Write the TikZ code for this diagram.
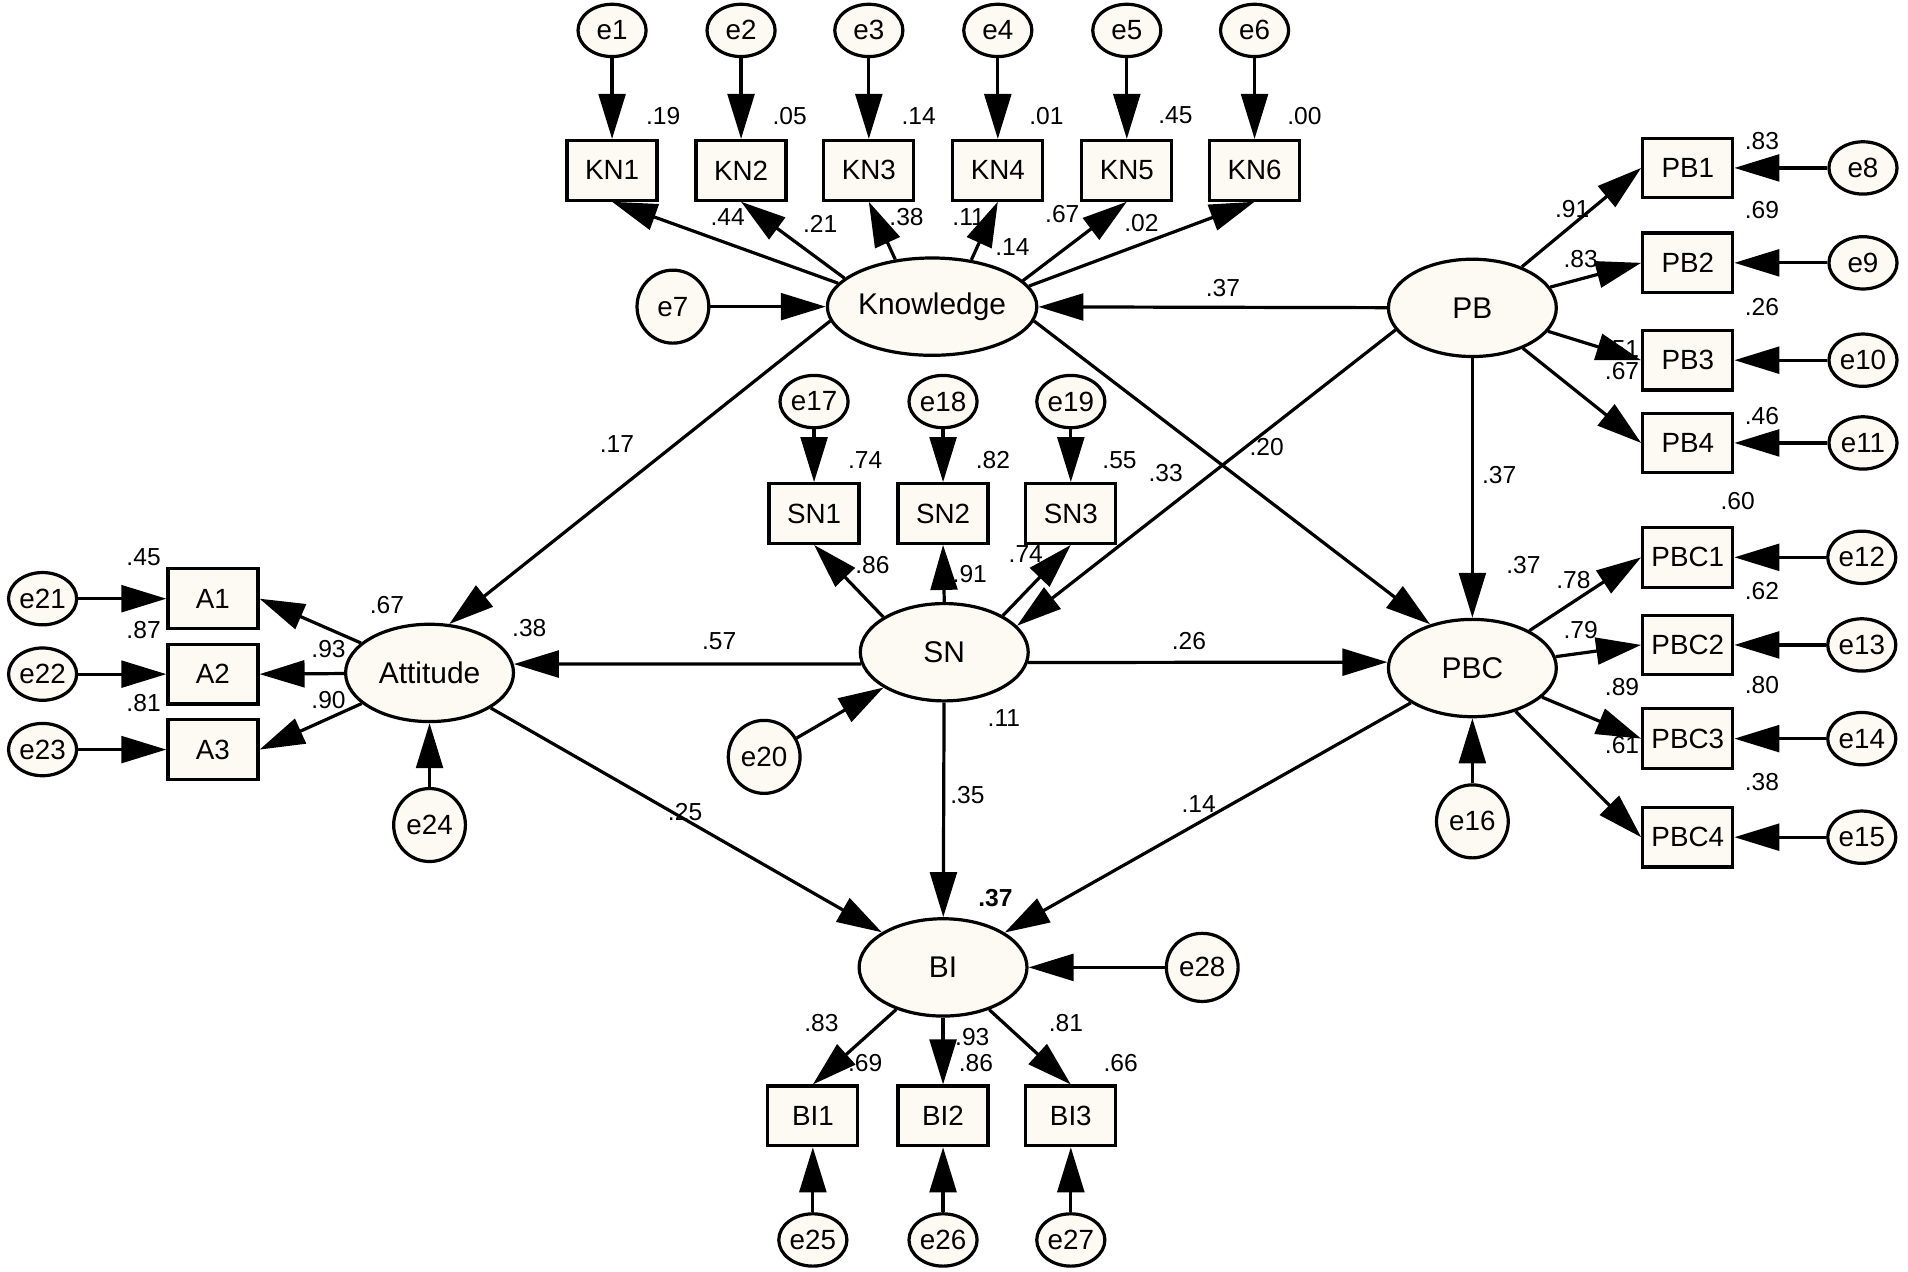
\documentclass[tikz,border=0pt]{standalone}
\usepackage{fontspec}
\setmainfont{Liberation Sans}
\usetikzlibrary{shapes.geometric,arrows.meta}
\definecolor{semfill}{RGB}{253,250,243}
\tikzset{
	obs/.style={draw,line width=1.5pt,fill=semfill,minimum width=1.48cm,minimum height=0.98cm,inner sep=0pt,font=\fontsize{13}{13}\selectfont},
	lat/.style={draw,ellipse,line width=1.5pt,fill=semfill,minimum width=2.76cm,minimum height=1.6cm,inner sep=0pt,font=\fontsize{14}{14}\selectfont},
	err/.style={draw,ellipse,line width=1.5pt,fill=semfill,minimum width=1.12cm,minimum height=0.86cm,inner sep=0pt,font=\fontsize{13}{13}\selectfont},
	errbig/.style={err,minimum width=1.18cm,minimum height=1.2cm},
	coef/.style={inner sep=0pt,font=\fontsize{11.5}{12}\selectfont},
	reg/.style={line width=1.5pt,-{Triangle[length=0.74cm,width=0.44cm]}},
}

\begin{document}
\begin{tikzpicture}[x=0.02cm,y=-0.02cm]
	\useasboundingbox (0,0) rectangle (1568,1045);
	% latent variables
	\node[lat] (Knowledge) at (766,252) {Knowledge};
	\node[lat] (PB) at (1210,253) {PB};
	\node[lat] (PBC) at (1210,549) {PBC};
	\node[lat] (SN) at (776,536) {SN};
	\node[lat] (Attitude) at (353,553) {Attitude};
	\node[lat] (BI) at (775,795) {BI};
	% indicators and errors
	\foreach \i/\x in {1/503,2/609,3/714,4/820,5/926,6/1031} {
		\node[err] (e\i) at (\x,25) {e\i};
		\node[obs] (KN\i) at (\x,140) {KN\i};
	}
	\foreach \i/\y [count=\k from 8] in {1/138,2/216,3/296,4/364} {
		\node[obs] (PB\i) at (1387,\y) {PB\i};
		\node[err] (e\k) at (1531,\y) {e\k};
	}
	\foreach \i/\y [count=\k from 12] in {1/458,2/530,3/607,4/688} {
		\node[obs] (PBC\i) at (1387,\y) {PBC\i};
		\node[err] (e\k) at (1530,\y) {e\k};
	}
	\foreach \i/\x [count=\k from 17] in {1/669,2/775,3/880} {
		\node[obs] (SN\i) at (\x,422) {SN\i};
		\node[err] (e\k) at (\x,330) {e\k};
	}
	\foreach \i/\y [count=\k from 21] in {1/492,2/554,3/616} {
		\node[obs] (A\i) at (175,\y) {A\i};
		\node[err] (e\k) at (35,\y) {e\k};
	}
	\foreach \i/\x [count=\k from 25] in {1/668,2/775,3/880} {
		\node[obs] (BI\i) at (\x,917) {BI\i};
		\node[err] (e\k) at (\x,1019) {e\k};
	}
	\node[errbig] (e7) at (553,252) {e7};
	\node[errbig] (e16) at (1210,675) {e16};
	\node[errbig] (e24) at (353,678) {e24};
	\node[errbig] (e20) at (628,622) {e20};
	\node[errbig,minimum height=1.12cm] (e28) at (988,795) {e28};

	% measurement paths
	\foreach \i/\a in {1/166,2/162,3/128,4/50,5/16,6/12} {
		\draw[reg] (e\i) -- (KN\i);
		\draw[reg] (Knowledge.\a) -- (KN\i.south);
	}
	\foreach \i [count=\k from 8] in {1,...,4} {
		\draw[reg] (e\k) -- (PB\i);
		\draw[reg] (PB) -- (PB\i.west);
	}
	\foreach \i [count=\k from 12] in {1,...,4} {
		\draw[reg] (e\k) -- (PBC\i);
		\draw[reg] (PBC) -- (PBC\i.west);
	}
	\foreach \i/\a [count=\k from 17] in {1/150,2/90,3/32} {
		\draw[reg] (e\k) -- (SN\i);
		\draw[reg] (SN.\a) -- (SN\i.south);
	}
	\foreach \i [count=\k from 21] in {1,...,3} {
		\draw[reg] (e\k) -- (A\i);
		\draw[reg] (Attitude) -- (A\i.east);
	}
	\foreach \i [count=\k from 25] in {1,...,3} {
		\draw[reg] (e\k) -- (BI\i);
		\draw[reg] (BI) -- (BI\i.north);
	}

	% structural paths
	\draw[reg] (e7) -- (Knowledge);
	\draw[reg] (PB) -- (Knowledge);
	\draw[reg] (PB) -- (PBC);
	\draw[reg] (PB.196) -- (SN.20);
	\draw[reg] (Knowledge.188) -- (Attitude.68);
	\draw[reg] (Knowledge.352) -- (PBC.134);
	\draw[reg] (SN.188) -- (Attitude.6);
	\draw[reg] (SN.353) -- (PBC.176);
	\draw[reg] (SN) -- (BI);
	\draw[reg] (Attitude) -- (BI);
	\draw[reg] (PBC) -- (BI);
	\draw[reg] (e16) -- (PBC);
	\draw[reg] (e20) -- (SN);
	\draw[reg] (e24) -- (Attitude);
	\draw[reg] (e28) -- (BI);

	% estimates
	\foreach \val/\x/\y [count=\n] in {
		.19/545/95, .05/649/95, .14/755/95, .01/860/95, .45/966/95, .00/1072/95,
		.44/598/178, .21/674/184, .38/745/178, .11/796/178, .14/832/203, .67/873/176, .02/938/183,
		.37/1005/237,
		.83/1448/116, .69/1448/173, .26/1448/252, .46/1448/342,
		.91/1292/172, .83/1299/213, .51/1333/287, .67/1333/305,
		.37/1232/390,
		.60/1428/412, .62/1448/486, .80/1448/563, .38/1448/643,
		.78/1293/477, .79/1299/518, .89/1333/565, .61/1333/612, .37/1252/464,
		.74/711/378, .82/816/378, .55/920/378, .33/958/389, .20/1041/367,
		.86/717/464, .91/797/472, .74/843/455,
		.17/507/365,
		.45/118/458, .87/118/518, .81/118/578, .67/318/497, .93/270/533, .90/270/575, .38/435/516,
		.57/591/527, .26/977/527, .11/825/590, .35/795/653, .25/563/667, .14/985/661,
		.83/675/841, .93/799/852, .81/876/841, .69/711/874, .86/802/874, .66/921/874}
		\node[coef] (c\n) at (\x,\y) {\val};
	\node[coef,font=\fontsize{11.5}{12}\selectfont\bfseries] (rBI) at (818,738) {.37};
\end{tikzpicture}
\end{document}
